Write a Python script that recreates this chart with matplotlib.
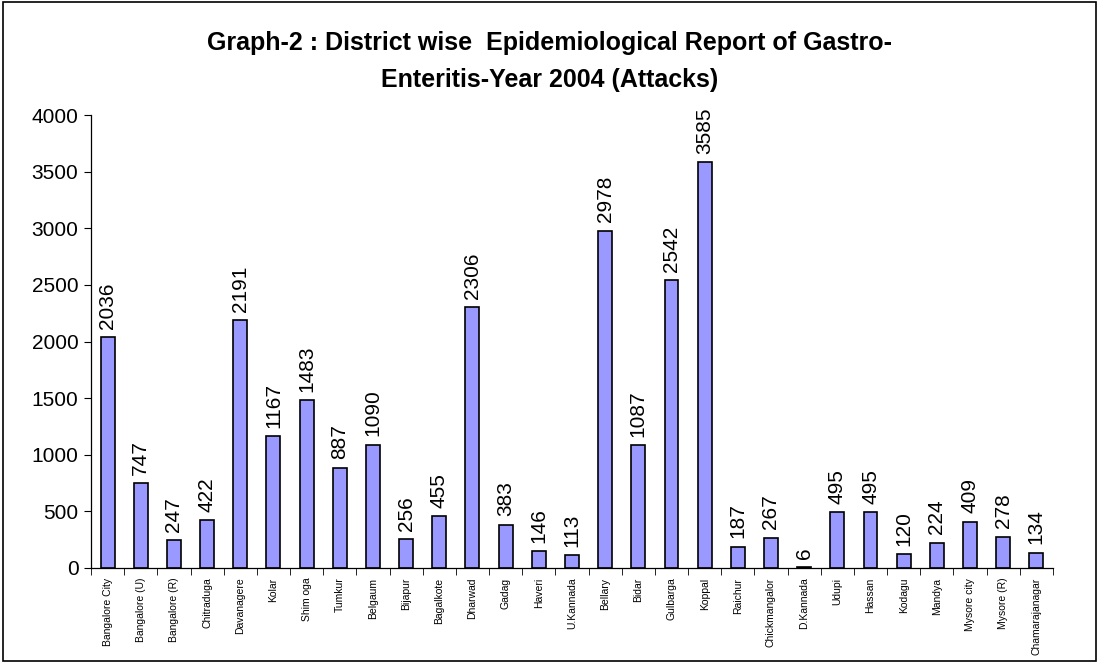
import numpy as np
import matplotlib.pyplot as plt
from matplotlib.patches import Rectangle

districts = ["Bangalore City", "Bangalore (U)", "Bangalore (R)", "Chitraduga", "Davanagere",
             "Kolar", "Shim oga", "Tumkur", "Belgaum", "Bijapur", "Bagalkote", "Dharwad",
             "Gadag", "Haveri", "U.Kannada", "Bellary", "Bidar", "Gulbarga", "Koppal",
             "Raichur", "Chickmangalor", "D.Kannada", "Udupi", "Hassan", "Kodagu",
             "Mandya", "Mysore city", "Mysore (R)", "Chamarajanagar"]
attacks = [2036, 747, 247, 422, 2191, 1167, 1483, 887, 1090, 256, 455, 2306,
           383, 146, 113, 2978, 1087, 2542, 3585, 187, 267, 6, 495, 495, 120,
           224, 409, 278, 134]

plt.rcParams['font.family'] = ['Liberation Sans', 'DejaVu Sans']

fig = plt.figure(figsize=(10.99, 6.63), dpi=100)
ax = fig.add_axes([0.0828, 0.1433, 0.8753, 0.6832])

x = np.arange(len(districts))
ax.bar(x, attacks, width=0.42, color='#9999FF', edgecolor='black', linewidth=1.2)

# value on top of each bar
for xi, v in zip(x, attacks):
    ax.annotate(str(v), (xi, v), xytext=(0, 6), textcoords='offset points',
                rotation=90, ha='center', va='bottom', fontsize=15)

ax.set_xlim(-0.5, len(districts) - 0.5)
ax.set_ylim(0, 4000)
ax.set_yticks(np.arange(0, 4001, 500))
ax.tick_params(axis='y', labelsize=15, direction='out', length=5, pad=4)

# category labels sit under bars, tick marks between categories
ax.set_xticks(x)
ax.set_xticklabels(districts, rotation=90, fontsize=7.5, va='top')
ax.tick_params(axis='x', which='major', length=0, pad=7)
ax.set_xticks(np.arange(-0.5, len(districts), 1), minor=True)
ax.tick_params(axis='x', which='minor', length=5, direction='out')

for s in ['top', 'right']:
    ax.spines[s].set_visible(False)
for s in ['left', 'bottom']:
    ax.spines[s].set_linewidth(0.9)

fig.text(0.5, 1 - 50 / 663, "Graph-2 : District wise  Epidemiological Report of Gastro-",
         ha='center', va='baseline', fontsize=18, fontweight='bold')
fig.text(0.5, 1 - 87 / 663, "Enteritis-Year 2004 (Attacks)",
         ha='center', va='baseline', fontsize=18, fontweight='bold')

fig.patches.append(Rectangle((0.003, 0.003), 0.994, 0.994, transform=fig.transFigure,
                             fill=False, edgecolor='black', linewidth=1.2))

fig.savefig('out.png', dpi=100)
